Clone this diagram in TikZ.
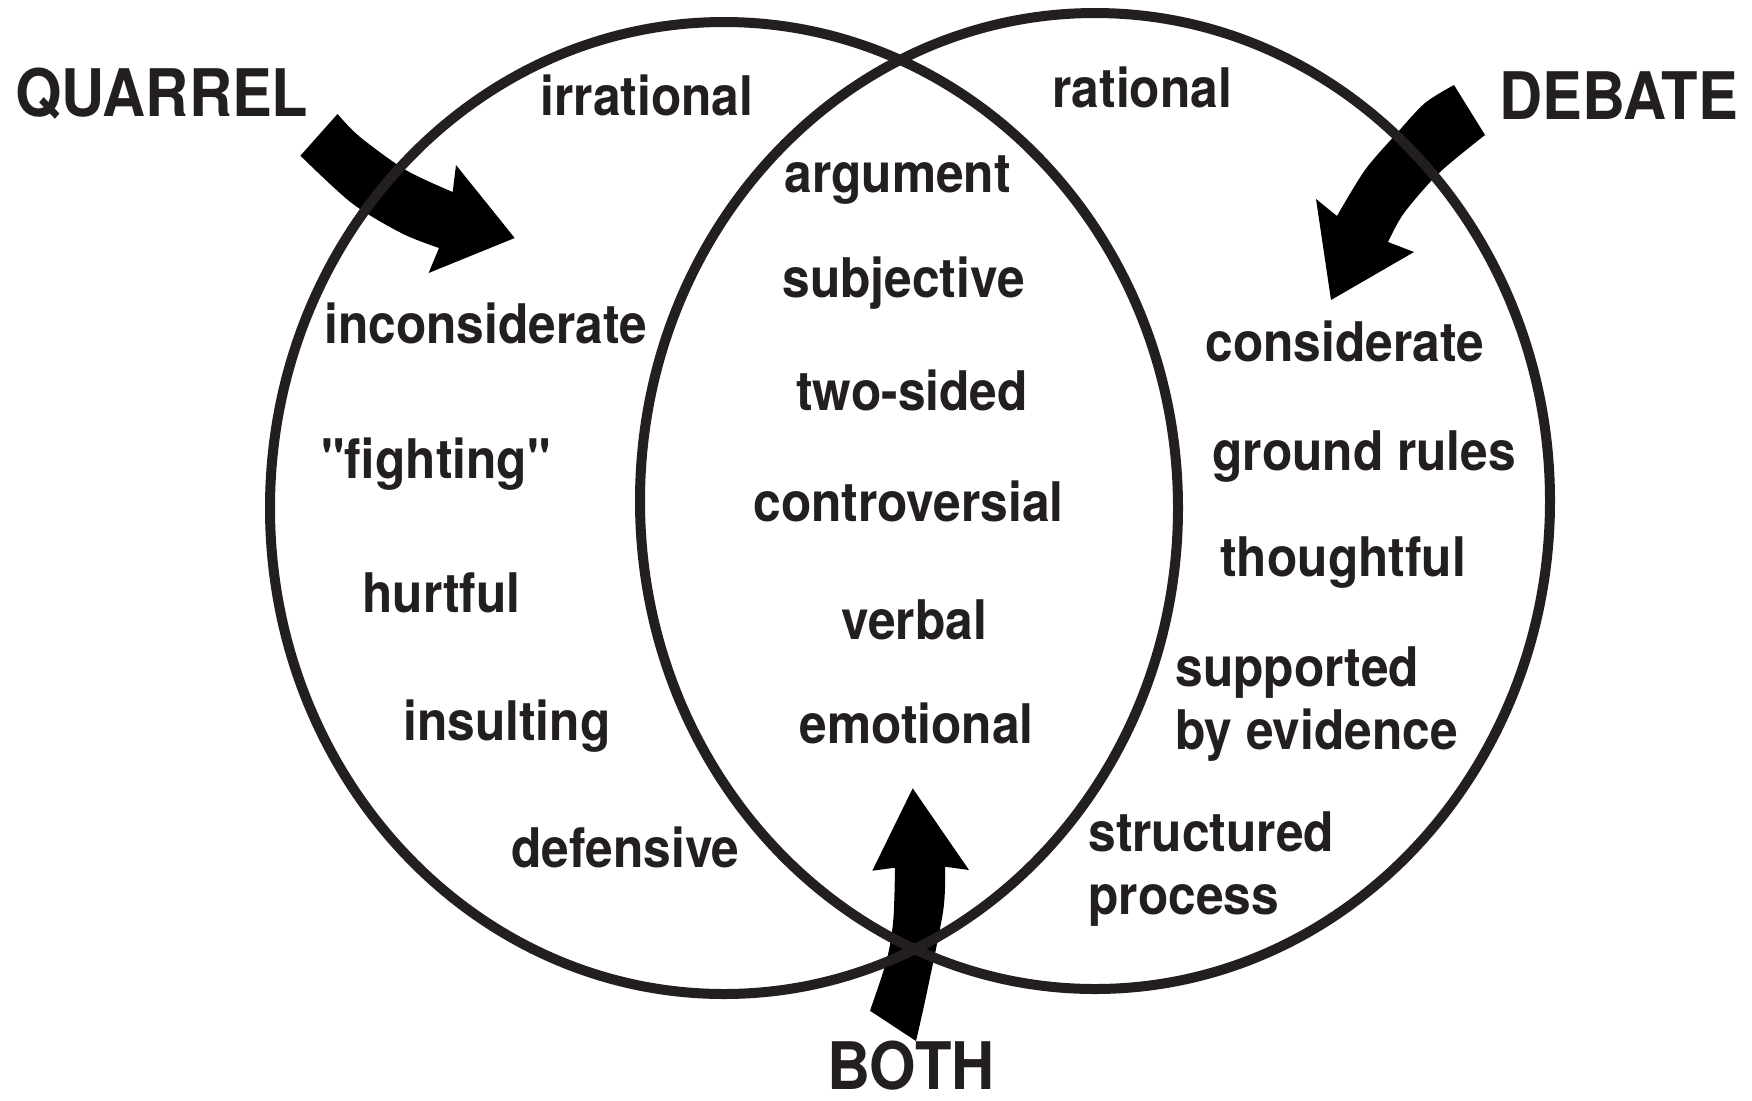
\documentclass[tikz,border=0pt]{standalone}
\usepackage{fontspec}
\newfontfamily\hv{TeX Gyre Heros}[FakeStretch=0.91]
\definecolor{ink}{RGB}{35,31,32}
\begin{document}
\begin{tikzpicture}[x=0.5pt,y=-0.5pt,
  word/.style={anchor=base west,inner sep=0pt,text=ink,font=\hv\bfseries\fontsize{27.3}{30}\selectfont},
  title/.style={anchor=base west,inner sep=0pt,text=ink,font=\hv\bfseries\fontsize{32.8}{36}\selectfont},
  ring/.style={draw=ink,line width=5pt},
  blockarrow/.style={fill=black}]
\fill[white] (0,0) rectangle (1752,1100);
\useasboundingbox (0,0) rectangle (1752,1100);

% arrows
\fill[blockarrow] plot[smooth] coordinates {(337.5,114) (359.7,136.7) (405.7,170) (452.7,192)}
  -- (456,165) -- (514.7,238) -- (428.6,273) -- (439,248)
  -- plot[smooth] coordinates {(439,248) (401.8,233.3) (352,203.3) (300.4,155.7)} -- cycle;
\fill[blockarrow] plot[smooth] coordinates {(1454,85) (1425,103) (1397,133) (1365,170) (1337,216)}
  -- (1316,199) -- (1331,300) -- (1414,252) -- (1388,242)
  -- plot[smooth] coordinates {(1388,242) (1404,213) (1439,173) (1485,135)} -- cycle;
\fill[blockarrow] (912.7,788.3) -- (872.3,870.7) -- (895,867.7)
  -- plot[smooth] coordinates {(895,867.7) (893.3,920) (886.7,960) (870,1010.7)}
  -- (916,1041)
  -- plot[smooth] coordinates {(916,1041) (926.7,993.3) (943.3,910) (945,866.7)}
  -- (969,870) -- cycle;

% circles
\draw[ring] (724,508) ellipse [x radius=454, y radius=486];
\draw[ring] (1095,501) ellipse [x radius=455, y radius=488];

% titles
\node[title] (quarrel) at (15,116) {QUARREL};
\node[title] (debate) at (1499,119) {DEBATE};
\node[title] (both) at (827,1089) {BOTH};

% left
\node[word] (irr) at (540,115) {irrational};
\node[word] (incons) at (324,343) {inconsiderate};
\node[word] (fight) at (321,478) {"fighting"};
\node[word] (hurt) at (362,612) {hurtful};
\node[word] (insult) at (403,740) {insulting};
\node[word] (defen) at (511,867) {defensive};

% middle
\node[word] (arg) at (784,192) {argument};
\node[word] (subj) at (782,297) {subjective};
\node[word] (two) at (796,410) {two-sided};
\node[word] (contro) at (753,521) {controversial};
\node[word] (verb) at (841,639) {verbal};
\node[word] (emo) at (799,743) {emotional};

% right
\node[word] (rat) at (1052,107) {rational};
\node[word] (cons) at (1205,361) {considerate};
\node[word] (ground) at (1212,470) {ground rules};
\node[word] (thought) at (1220,576) {thoughtful};
\node[word] (supp) at (1175,686) {supported};
\node[word] (byev) at (1175,749) {by evidence};
\node[word] (struct) at (1088,851) {structured};
\node[word] (proc) at (1088,914) {process};
\end{tikzpicture}
\end{document}
